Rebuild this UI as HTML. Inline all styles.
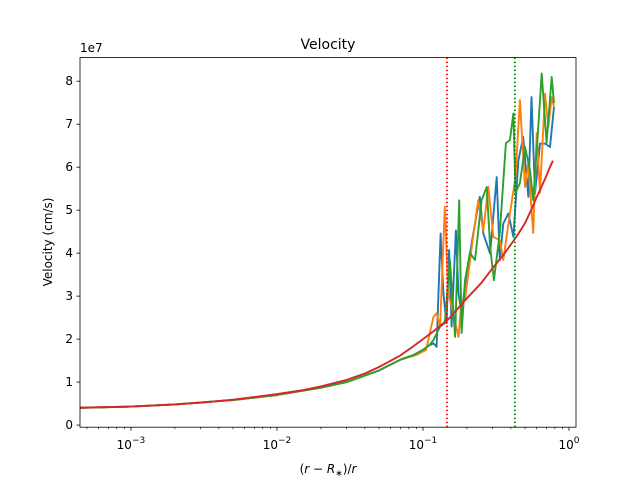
<!DOCTYPE html>
<html><head><meta charset="utf-8"><style>
body{margin:0;background:#fff}
svg{display:block;font-family:"DejaVu Sans","Liberation Sans",sans-serif}
</style></head><body>
<svg id="chart" width="640" height="480" viewBox="0 0 640 480">
<rect width="640" height="480" fill="#fff"/>
<defs><clipPath id="plotclip"><rect x="80" y="57.6" width="496" height="369.6"/></clipPath></defs>
<g id="marks" clip-path="url(#plotclip)"></g>
<g id="axes"></g>
<rect x="80" y="57.6" width="496" height="369.6" fill="none" stroke="#000" stroke-width="0.8"/>
<text x="328" y="49" text-anchor="middle" font-size="14">Velocity</text>
<text x="80" y="52" font-size="12">1e7</text>
<text transform="translate(52,242) rotate(-90)" text-anchor="middle" font-size="12">Velocity (cm/s)</text>
<text x="328" y="473" text-anchor="middle" font-size="12">(<tspan font-style="italic">r</tspan> − <tspan font-style="italic">R</tspan><tspan font-size="9" dy="3">∗</tspan><tspan dy="-3">)/</tspan><tspan font-style="italic">r</tspan></text>
</svg>
<script>
const smoothX=[0.0004,0.001,0.002,0.005,0.01,0.02,0.03,0.05,0.07,0.085,0.1,0.11];
const smoothV=[0.40,0.43,0.48,0.58,0.70,0.87,1.0,1.27,1.52,1.62,1.75,1.85];
const blueX=[0.118,0.124,0.132,0.138,0.145,0.151,0.157,0.168,0.175,0.184,0.199,0.221,0.245,0.259,0.288,0.320,0.336,0.355,0.384,0.416,0.450,0.486,0.526,0.554,0.585,0.633,0.685,0.741,0.789];
const blueV=[1.9,1.82,4.46,3.06,2.37,4.07,2.29,4.53,3.06,2.6,3.53,4.46,5.31,4.46,3.99,5.77,3.84,4.69,4.92,4.38,6.16,6.7,5.31,7.63,5.39,6.55,6.55,6.47,7.4];
const orangeX=[0.09,0.105,0.118,0.124,0.131,0.141,0.149,0.161,0.175,0.184,0.194,0.216,0.239,0.259,0.280,0.303,0.336,0.355,0.394,0.430,0.461,0.500,0.526,0.569,0.601,0.633,0.685,0.722,0.761,0.789];
const orangeV=[1.63,1.75,2.52,2.6,2.29,5.08,3.06,2.6,2.05,2.91,2.91,4.15,5.23,4.53,5.54,4.38,4.3,3.84,4.92,5.77,7.56,5.54,6.09,4.47,6.79,5.4,7.71,6.94,7.63,7.4];
const greenX=[0.118,0.131,0.141,0.153,0.166,0.177,0.184,0.194,0.210,0.227,0.252,0.273,0.288,0.306,0.336,0.370,0.394,0.416,0.430,0.461,0.500,0.541,0.569,0.616,0.650,0.703,0.761,0.789];
const greenV=[1.98,2.29,2.37,3.84,2.05,5.23,2.14,3.37,4.0,3.84,5.23,5.54,4.15,3.37,4.47,6.56,6.63,7.25,5.4,5.63,6.47,5.93,5.23,6.94,8.18,6.56,8.1,7.49];
const redX=[0.0004,0.001,0.002,0.003,0.005,0.007,0.01,0.015,0.02,0.03,0.04,0.05,0.07,0.085,0.1,0.12,0.15,0.2,0.25,0.3,0.35,0.4,0.45,0.5,0.55,0.6,0.65,0.7,0.73,0.776];
const redV=[0.40,0.43,0.48,0.52,0.59,0.65,0.72,0.81,0.9,1.05,1.2,1.35,1.62,1.82,2.0,2.2,2.47,2.95,3.3,3.65,3.93,4.2,4.45,4.7,5.0,5.3,5.55,5.8,5.95,6.15];
const vlineX=[0.146,0.426];
const yTicks=[0,1,2,3,4,5,6,7,8];
const xMajor=[0.001,0.01,0.1,1];
const xMajorLabels=["3","2","1","0"];

const L=80,R=576,T=57.6,B=427.2;
const lxMin=-3.349,lxMax=0.048,yMin=-0.05,yMax=8.55;
const sx=x=>L+(Math.log10(x)-lxMin)/(lxMax-lxMin)*(R-L);
const sy=v=>B-(v-yMin)/(yMax-yMin)*(B-T);
const NS="http://www.w3.org/2000/svg";
const marks=document.getElementById('marks'),axes=document.getElementById('axes');
function mk(tag,attrs,parent){const e=document.createElementNS(NS,tag);for(const k in attrs)e.setAttribute(k,attrs[k]);parent.appendChild(e);return e;}
function pts(xs,vs){return xs.map((x,i)=>sx(x).toFixed(1)+','+sy(vs[i]).toFixed(1)).join(' ');}

let p=mk('polyline',{points:pts(smoothX.concat(blueX),smoothV.concat(blueV)),fill:'none',stroke:'#1f77b4','stroke-width':1.9,'stroke-linejoin':'round'},marks);


p=mk('polyline',{points:pts(smoothX.slice(0,9).concat(orangeX),smoothV.slice(0,9).concat(orangeV)),fill:'none',stroke:'#ff7f0e','stroke-width':1.9,'stroke-linejoin':'round'},marks);


p=mk('polyline',{points:pts(smoothX.concat(greenX),smoothV.concat(greenV)),fill:'none',stroke:'#2ca02c','stroke-width':1.9,'stroke-linejoin':'round'},marks);


p=mk('polyline',{points:pts(redX,redV),fill:'none',stroke:'#d62728','stroke-width':1.9,'stroke-linejoin':'round'},marks);


const vcol=['#ff0000','#008000'];
vlineX.forEach((x,i)=>{
  const l=mk('line',{x1:sx(x),x2:sx(x),y1:T,y2:B,stroke:vcol[i],'stroke-width':1.8,'stroke-dasharray':'1.5,2.5'},marks);
  
  
});
yTicks.forEach(v=>{
  const y=sy(v);
  mk('line',{x1:L-3.5,x2:L,y1:y,y2:y,stroke:'#000','stroke-width':0.8},axes);
  const t=mk('text',{x:L-7,y:y+4,'text-anchor':'end','font-size':12},axes);
  t.textContent=v;
  
  
});
for(let d=-4;d<=0;d++){for(let m=2;m<=9;m++){const x=m*Math.pow(10,d);const px=sx(x);if(px>=L&&px<=R)mk('line',{x1:px,x2:px,y1:B,y2:B+2,stroke:'#000','stroke-width':0.6},axes);}}
xMajor.forEach((x,i)=>{
  const px=sx(x);
  mk('line',{x1:px,x2:px,y1:B,y2:B+3.5,stroke:'#000','stroke-width':0.8},axes);
  const t=mk('text',{x:px,y:B+22,'text-anchor':'middle','font-size':12},axes);
  
  
  const a=document.createElementNS(NS,'tspan');a.textContent='10';t.appendChild(a);
  const b=document.createElementNS(NS,'tspan');b.setAttribute('dy','-6');b.setAttribute('font-size','9');b.textContent=(xMajorLabels[i]==='0'?'':'−')+xMajorLabels[i];t.appendChild(b);
});
</script>
</body></html>
